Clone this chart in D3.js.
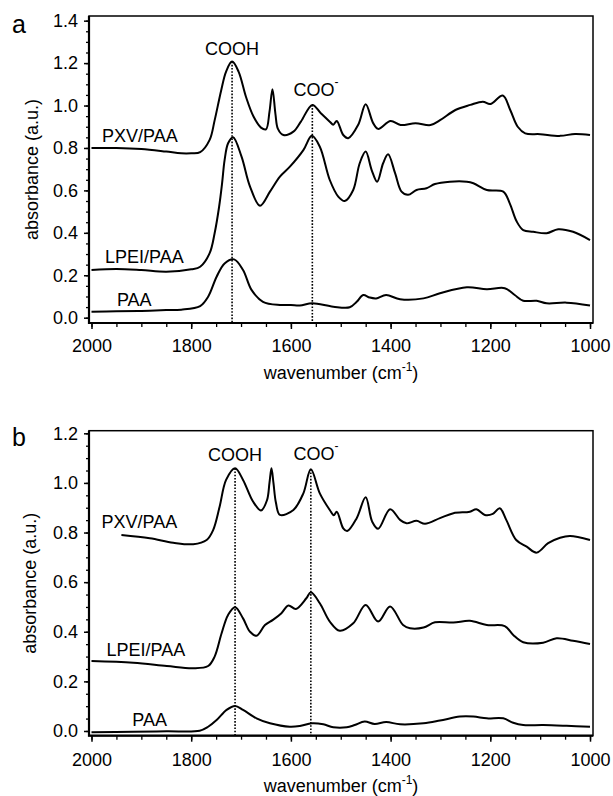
<!DOCTYPE html>
<html>
<head>
<meta charset="utf-8">
<script src="https://cdn.jsdelivr.net/npm/d3@7"></script>
<style>
  body { margin: 0; background: #fff; }
  svg { display: block; font-family: Arial, "Liberation Sans", sans-serif; }
  .tick text { font-size: 18px; fill: #000; }
</style>
</head>
<body>
<svg id="chart" width="613" height="796"></svg>
<script>
// FTIR spectra, values (wavenumber, absorbance)

var aPXV = [[2000,0.80],[1950,0.80],[1900,0.795],[1850,0.783],[1820,0.775],[1800,0.775],[1782,0.78],[1763,0.838],[1753,0.93],[1740,1.07],[1730,1.16],[1718,1.207],[1705,1.16],[1690,1.04],[1675,0.948],[1660,0.896],[1650,0.888],[1643,0.97],[1637,1.077],[1631,0.96],[1626,0.89],[1615,0.861],[1595,0.877],[1580,0.924],[1557,1.003],[1540,0.964],[1522,0.924],[1515,0.91],[1508,0.927],[1495,0.861],[1485,0.846],[1465,0.909],[1450,1.006],[1435,0.917],[1425,0.89],[1400,0.927],[1380,0.908],[1350,0.917],[1320,0.908],[1300,0.932],[1270,0.979],[1240,1.003],[1215,1.018],[1200,1.007],[1175,1.047],[1160,0.979],[1145,0.90],[1130,0.869],[1100,0.865],[1060,0.857],[1030,0.866],[1000,0.861]];

var aLPEI = [[2000,0.225],[1950,0.23],[1900,0.225],[1850,0.217],[1800,0.228],[1782,0.24],[1763,0.304],[1753,0.398],[1744,0.523],[1738,0.634],[1733,0.743],[1726,0.822],[1716,0.851],[1699,0.759],[1682,0.618],[1662,0.528],[1642,0.594],[1622,0.665],[1602,0.712],[1575,0.79],[1558,0.857],[1542,0.806],[1522,0.649],[1505,0.571],[1492,0.55],[1475,0.602],[1462,0.728],[1450,0.783],[1438,0.696],[1427,0.641],[1415,0.728],[1405,0.77],[1391,0.681],[1378,0.594],[1365,0.579],[1348,0.602],[1328,0.61],[1311,0.63],[1281,0.641],[1247,0.641],[1234,0.634],[1207,0.602],[1174,0.594],[1161,0.539],[1147,0.453],[1134,0.413],[1114,0.405],[1087,0.398],[1064,0.417],[1034,0.405],[1000,0.366]];

var aPAA = [[2000,0.028],[1950,0.03],[1900,0.032],[1850,0.036],[1820,0.038],[1782,0.055],[1766,0.099],[1749,0.193],[1733,0.256],[1714,0.275],[1696,0.225],[1679,0.131],[1656,0.075],[1622,0.06],[1600,0.06],[1582,0.058],[1557,0.068],[1515,0.052],[1482,0.049],[1468,0.075],[1455,0.107],[1442,0.095],[1429,0.091],[1409,0.107],[1381,0.087],[1334,0.091],[1301,0.115],[1247,0.143],[1207,0.134],[1171,0.139],[1151,0.107],[1134,0.08],[1107,0.08],[1087,0.068],[1047,0.071],[1000,0.058]];

var bPXV = [[1940,0.79],[1883,0.777],[1836,0.759],[1796,0.753],[1769,0.77],[1756,0.81],[1743,0.904],[1730,1.012],[1712,1.059],[1696,1.012],[1676,0.925],[1660,0.889],[1648,0.93],[1643,1.0],[1639,1.059],[1635,1.0],[1630,0.92],[1622,0.871],[1595,0.891],[1575,0.958],[1560,1.055],[1542,0.958],[1522,0.891],[1514,0.87],[1508,0.884],[1495,0.817],[1487,0.806],[1468,0.858],[1450,0.942],[1437,0.844],[1425,0.815],[1401,0.894],[1381,0.851],[1368,0.837],[1348,0.847],[1331,0.835],[1301,0.858],[1274,0.878],[1241,0.884],[1228,0.894],[1211,0.871],[1195,0.875],[1181,0.898],[1168,0.851],[1148,0.77],[1127,0.743],[1107,0.719],[1084,0.757],[1060,0.779],[1040,0.786],[1000,0.77]];

var bLPEI = [[2000,0.282],[1916,0.275],[1849,0.262],[1796,0.253],[1766,0.262],[1753,0.30],[1739,0.394],[1726,0.468],[1712,0.499],[1696,0.454],[1682,0.40],[1669,0.384],[1652,0.427],[1636,0.448],[1619,0.475],[1605,0.506],[1590,0.492],[1569,0.535],[1560,0.559],[1542,0.515],[1522,0.441],[1502,0.404],[1475,0.434],[1450,0.508],[1425,0.441],[1401,0.502],[1375,0.427],[1361,0.414],[1334,0.417],[1311,0.438],[1274,0.437],[1241,0.444],[1207,0.427],[1171,0.423],[1154,0.387],[1134,0.358],[1094,0.356],[1067,0.374],[1034,0.364],[1000,0.351]];

var bPAA = [[2000,-0.005],[1916,-0.003],[1849,-0.001],[1783,0.001],[1766,0.017],[1749,0.044],[1729,0.085],[1712,0.101],[1696,0.085],[1669,0.051],[1642,0.031],[1602,0.017],[1582,0.02],[1558,0.031],[1535,0.027],[1515,0.015],[1488,0.015],[1472,0.024],[1452,0.038],[1432,0.028],[1409,0.036],[1381,0.027],[1334,0.031],[1301,0.042],[1261,0.058],[1234,0.058],[1207,0.051],[1174,0.051],[1154,0.033],[1134,0.024],[1094,0.024],[1047,0.021],[1000,0.017]];

// dotted marker lines: wavenumber, top absorbance
var aMarks = [[1718,1.207],[1557,1.003]];
var bMarks = [[1712,1.059],[1560,1.055]];

// curve labels: text, wavenumber, absorbance
var aLabels = [['PXV/PAA',1979,0.83],['LPEI/PAA',1973,0.256],['PAA',1949,0.055]];
var bLabels = [['PXV/PAA',1980,0.82],['LPEI/PAA',1970,0.302],['PAA',1918,0.02]];

var xMajor = [2000,1800,1600,1400,1200,1000];
var xMinor = d3.range(2000, 999, -50);
var aYMajor = [0,0.2,0.4,0.6,0.8,1.0,1.2,1.4];
var bYMajor = [0,0.2,0.4,0.6,0.8,1.0,1.2];

;(function(d3){

    'use strict';

    var svg = d3.select('#chart');
    var left = 89, right = 593;

    function drawPanel(cfg){

        var x = d3.scaleLinear().domain([2005, 994]).range([left, right]);
        var y = d3.scaleLinear().domain(cfg.yDomain).range([cfg.bottom, cfg.top]);
        var g = svg.append('g');

        var yMinor = d3.range(0, cfg.yMajor[cfg.yMajor.length-1] + 0.001, 0.05);

        // minor ticks first, then majors with labels
        g.append('g').attr('transform','translate(' + left + ',0)')
            .call(d3.axisLeft(y).tickValues(yMinor).tickSize(3).tickFormat(''))
            .call(function(s){ s.select('.domain').remove(); s.selectAll('line').attr('stroke-width',1.3); });
        g.append('g').attr('transform','translate(' + left + ',0)')
            .call(d3.axisLeft(y).tickValues(cfg.yMajor).tickSize(5).tickPadding(6).tickFormat(d3.format('.1f')))
            .call(function(s){ s.select('.domain').remove(); s.selectAll('line').attr('stroke-width',1.5); });

        g.append('g').attr('transform','translate(0,' + cfg.bottom + ')')
            .call(d3.axisBottom(x).tickValues(xMinor).tickSize(4).tickFormat(''))
            .call(function(s){ s.select('.domain').remove(); s.selectAll('line').attr('stroke-width',1.3); });
        g.append('g').attr('transform','translate(0,' + cfg.bottom + ')')
            .call(d3.axisBottom(x).tickValues(xMajor).tickSize(6).tickPadding(cfg.xPad).tickFormat(d3.format('d')))
            .call(function(s){ s.select('.domain').remove(); s.selectAll('line').attr('stroke-width',1.5); });

        // frame
        g.append('rect')
            .attr('x', left).attr('y', cfg.top)
            .attr('width', right - left).attr('height', cfg.bottom - cfg.top)
            .attr('fill','none').attr('stroke','#000').attr('stroke-width',1.5);
        g.append('path')
            .attr('d','M' + left + ',' + cfg.top + 'V' + cfg.bottom + 'H' + right)
            .attr('fill','none').attr('stroke','#000').attr('stroke-width',2.2);

        // dotted markers
        g.selectAll('line.mark').data(cfg.marks).enter().append('line')
            .attr('class','mark')
            .attr('x1', function(d){ return x(d[0]); })
            .attr('x2', function(d){ return x(d[0]); })
            .attr('y1', function(d){ return y(d[1]); })
            .attr('y2', cfg.bottom)
            .attr('stroke','#000').attr('stroke-width',1.6)
            .attr('stroke-dasharray','1.6,1.6');

        var line = d3.line()
            .x(function(d){ return x(d[0]); })
            .y(function(d){ return y(d[1]); })
            .curve(d3.curveCatmullRom.alpha(0.5));

        g.selectAll('path.spec').data(cfg.curves).enter().append('path')
            .attr('class','spec')
            .attr('d', line)
            .attr('fill','none').attr('stroke','#000').attr('stroke-width',2)
            .attr('stroke-linejoin','round');

        g.selectAll('text.lab').data(cfg.labels).enter().append('text')
            .attr('class','lab')
            .attr('x', function(d){ return x(d[1]); })
            .attr('y', function(d){ return y(d[2]); })
            .attr('font-size',18)
            .text(function(d){ return d[0]; });

        // peak labels
        g.append('text')
            .attr('x', x(cfg.marks[0][0])).attr('y', cfg.cooh)
            .attr('text-anchor','middle').attr('font-size',18)
            .text('COOH');
        var coo = g.append('text')
            .attr('x', x(1595)).attr('y', cfg.coo)
            .attr('font-size',18);
        coo.append('tspan').text('COO');
        coo.append('tspan').attr('font-size',12).attr('dy',-10).text('-');

        // axis titles
        g.append('text')
            .attr('transform','translate(' + cfg.yTitleX + ',' + ((cfg.top + cfg.bottom)/2) + ') rotate(-90)')
            .attr('text-anchor','middle').attr('font-size',18)
            .text('absorbance (a.u.)');
        var xt = g.append('text')
            .attr('x', (left + right)/2).attr('y', cfg.xTitleY)
            .attr('text-anchor','middle').attr('font-size',18);
        xt.append('tspan').text('wavenumber (cm');
        xt.append('tspan').attr('font-size',12).attr('dy',-8).text('-1');
        xt.append('tspan').attr('dy',8).text(')');

        g.append('text')
            .attr('x', 12).attr('y', cfg.letterY)
            .attr('font-size',25)
            .text(cfg.letter);
    }

    drawPanel({
        top: 16, bottom: 323, yDomain: [-0.025, 1.422], yMajor: aYMajor,
        curves: [aPXV, aLPEI, aPAA], marks: aMarks, labels: aLabels,
        cooh: 55, coo: 96, xPad: 10, xTitleY: 379, yTitleX: 38,
        letter: 'a', letterY: 33
    });

    drawPanel({
        top: 430.7, bottom: 735.7, yDomain: [-0.019, 1.2105], yMajor: bYMajor,
        curves: [bPXV, bLPEI, bPAA], marks: bMarks, labels: bLabels,
        cooh: 460.7, coo: 459.5, xPad: 11.5, xTitleY: 792, yTitleX: 36,
        letter: 'b', letterY: 446
    });

}(window.d3));
</script>
</body>
</html>
